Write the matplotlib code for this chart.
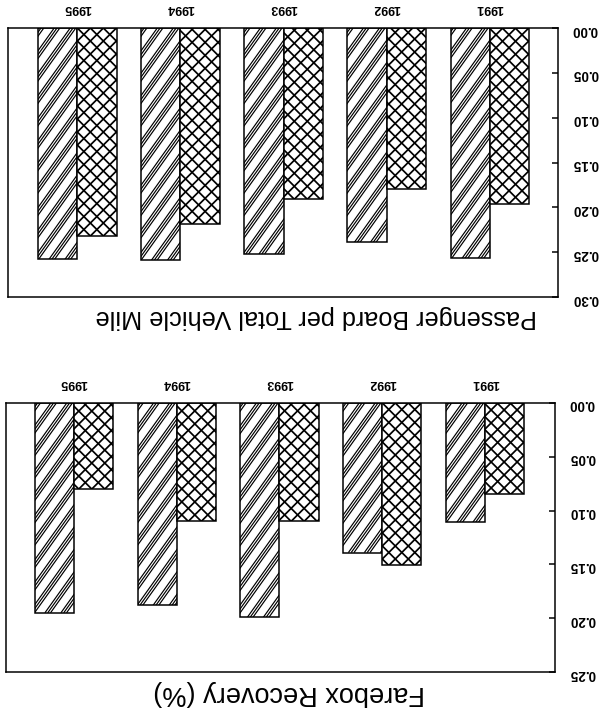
import matplotlib
matplotlib.use("Agg")
import matplotlib.pyplot as plt
from matplotlib.collections import LineCollection
from matplotlib.transforms import IdentityTransform
import numpy as np

# ---- data ----
years = ["1991", "1992", "1993", "1994", "1995"]

board_hatched = [0.257, 0.239, 0.252, 0.259, 0.258]
board_cross = [0.196, 0.179, 0.191, 0.219, 0.232]

farebox_hatched = [0.111, 0.139, 0.199, 0.188, 0.195]
farebox_cross = [0.085, 0.151, 0.110, 0.110, 0.080]

board_ticks = [0.00, 0.05, 0.10, 0.15, 0.20, 0.25, 0.30]
farebox_ticks = [0.00, 0.05, 0.10, 0.15, 0.20, 0.25]

DPI = 78
plt.rcParams["font.family"] = ["Liberation Sans", "DejaVu Sans"]

fig = plt.figure(figsize=(604 / DPI, 715 / DPI), dpi=DPI)
fig.patch.set_facecolor("white")

W, H = 604.0, 715.0


def px_axes(left, top, right, bottom):
    return fig.add_axes([left / W, 1 - bottom / H, (right - left) / W, (bottom - top) / H])


def hatch_lines(ax, patches, slope, period, offsets, lw):
    """Fill each bar with parallel line clusters (pixel spacing), clipped to the bar."""
    for p in patches:
        bb = p.get_window_extent()
        x0, x1, y0, y1 = bb.x0, bb.x1, bb.y0, bb.y1
        run = (y1 - y0) / slope
        segs = []
        c = x0 - abs(run) - period
        while c < x1 + abs(run) + period:
            for o in offsets:
                xa = c + o
                segs.append([(xa, y0), (xa + run, y1)])
            c += period
        lc = LineCollection(segs, colors="black", linewidths=lw,
                            transform=IdentityTransform(), zorder=1.5)
        ax.add_collection(lc, autolim=False)
        lc.set_clip_path(p)


def panel(ax, hatched, cross, ticks, ymax, xlim, title, title_x, title_size):
    x = np.arange(len(years))
    w = 0.38
    ax.set_xlim(*xlim)
    ax.set_ylim(ymax, 0)
    bars_h = ax.bar(x + w / 2, hatched, width=w, facecolor="white",
                    edgecolor="black", linewidth=1.4, zorder=1)
    bars_c = ax.bar(x - w / 2, cross, width=w, facecolor="white",
                    edgecolor="black", linewidth=1.4, zorder=1)
    # steep diagonal triple lines
    hatch_lines(ax, bars_h.patches, 1.4, 16.0, (0.0, 2.8, 5.6), 1.1)
    # 45-degree cross-hatch
    hatch_lines(ax, bars_c.patches, 1.0, 13.0, (0.0,), 1.6)
    hatch_lines(ax, bars_c.patches, -1.0, 13.0, (0.0,), 1.6)

    ax.yaxis.set_ticks_position("right")
    ax.set_yticks(ticks)
    ax.set_yticklabels([f"{t:.2f}" for t in ticks], rotation=180,
                       fontsize=12.5, fontweight="bold")
    ax.tick_params(axis="y", direction="in", length=6, width=1.4, pad=13)

    ax.xaxis.set_ticks_position("top")
    ax.set_xticks(x)
    ax.set_xticklabels(years, rotation=180, fontsize=11.5, fontweight="bold")
    ax.tick_params(axis="x", length=0, pad=13)

    for s in ax.spines.values():
        s.set_linewidth(1.4)
        s.set_color("black")

    ax.text(title_x, -0.03, title, transform=ax.transAxes, rotation=180,
            ha="center", va="top", fontsize=title_size)


ax1 = px_axes(8, 28, 558, 297)
panel(ax1, board_hatched, board_cross, board_ticks, 0.30, (4.673, -0.662),
      "Passenger Board per Total Vehicle Mile", 0.56, 23.3)

ax2 = px_axes(6, 403, 555, 672)
panel(ax2, farebox_hatched, farebox_cross, farebox_ticks, 0.25, (4.66, -0.68),
      "Farebox Recovery (%)", 0.515, 25)

fig.savefig("out.png", dpi=DPI, facecolor="white")
